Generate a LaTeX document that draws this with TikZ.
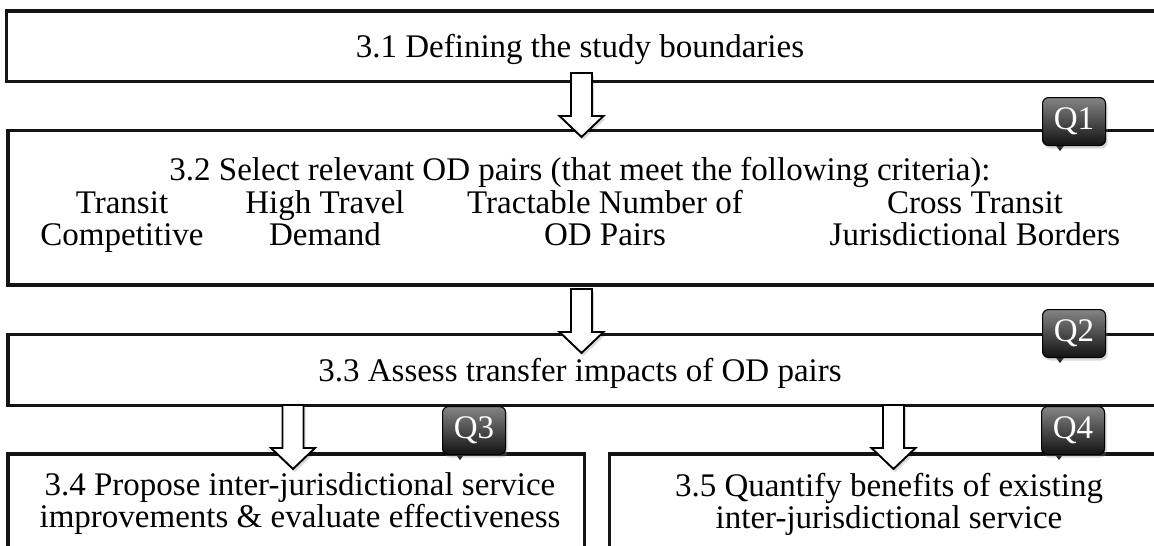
\documentclass[tikz,border=0pt]{standalone}
\usepackage{fontspec}
\setmainfont{Liberation Serif}
\usetikzlibrary{shadows}

\tikzset{
  stage/.style={draw=black!92, line width=3.5pt, fill=white, line join=miter,
                inner sep=0pt, outer sep=0pt, anchor=north west},
  lbl/.style={inner sep=0pt, anchor=base, text=black},
  flow/.style={draw=black, line width=1.9pt, fill=white, line join=miter},
  flowshade/.style={fill=black, opacity=.14},
  qtag/.style={draw=black, line width=1.1pt, rounded corners=6pt,
               top color=black!48, bottom color=black!93,
               minimum width=63pt, minimum height=48pt, inner sep=0pt,
               text=white, anchor=north west,
               drop shadow={shadow xshift=2pt, shadow yshift=-3pt, opacity=.3}},
  qtip/.style={fill=black!92},
  downarrow/.pic={
    \fill[flowshade] (-8.5,3) -- (12.5,3) -- (12.5,46) -- (24,46) -- (2,67) -- (-20,46) -- (-8.5,46) -- cycle;
    \draw[flow] (-10.5,0) -- (10.5,0) -- (10.5,43) -- (22,43) -- (0,64) -- (-22,43) -- (-10.5,43) -- cycle;
  }
}

\begin{document}
\begin{tikzpicture}[x=1pt, y=-1pt, font=\fontsize{33}{37}\selectfont]
\useasboundingbox (0,0) rectangle (1154,546);
\clip (0,0) rectangle (1154,546);

% stage frames
\node[stage, minimum width=1168pt, minimum height=70.5pt] (b31) at (6.5,11) {};
\node[stage, minimum width=1167pt, minimum height=154.5pt] (b32) at (8,130.5) {};
\node[stage, minimum width=1167pt, minimum height=70.6pt] (b33) at (8,334.7) {};
\node[stage, minimum width=576.5pt, minimum height=120pt] (b34) at (8,454) {};
\node[stage, minimum width=570pt, minimum height=120pt] (b35) at (609.5,454) {};

% stage texts
\node[lbl] (t31) at (580,57) {3.1 Defining the study boundaries};
\node[lbl] (t32) at (580,180) {3.2 Select relevant OD pairs (that meet the following criteria):};
\node[lbl] (c1a) at (122,213) {Transit};
\node[lbl] (c1b) at (122,245) {Competitive};
\node[lbl] (c2a) at (325,213) {High Travel};
\node[lbl] (c2b) at (325,245) {Demand};
\node[lbl] (c3a) at (605,213) {Tractable Number of};
\node[lbl] (c3b) at (605,245) {OD Pairs};
\node[lbl] (c4a) at (975,213) {Cross Transit};
\node[lbl] (c4b) at (975,245) {Jurisdictional Borders};
\node[lbl] (t33) at (580,381) {3.3 Assess transfer impacts of OD pairs};
\node[lbl] (t34a) at (300,495) {3.4 Propose inter-jurisdictional service};
\node[lbl] (t34b) at (300,527) {improvements \& evaluate effectiveness};
\node[lbl] (t35a) at (889,496) {3.5 Quantify benefits of existing};
\node[lbl] (t35b) at (889,528) {inter-jurisdictional service};

% block arrows between stages
\coordinate (a1) at (581.5,73);
\coordinate (a2) at (581.5,289);
\coordinate (a3) at (293,405);
\coordinate (a4) at (893.5,405);
\pic at (a1) {downarrow};
\pic at (a2) {downarrow};
\pic at (a3) {downarrow};
\pic at (a4) {downarrow};

% question tags
\foreach \x/\y in {1042/97, 1042/309, 442/406, 1041/406}{
  \fill[qtip] (\x+12,\y+46) -- (\x+24,\y+46) -- (\x+18,\y+54) -- cycle;
}
\node[qtag] (q1) at (1042,97) {Q1};
\node[qtag] (q2) at (1042,309) {Q2};
\node[qtag] (q3) at (442,406) {Q3};
\node[qtag] (q4) at (1041,406) {Q4};
\end{tikzpicture}
\end{document}
